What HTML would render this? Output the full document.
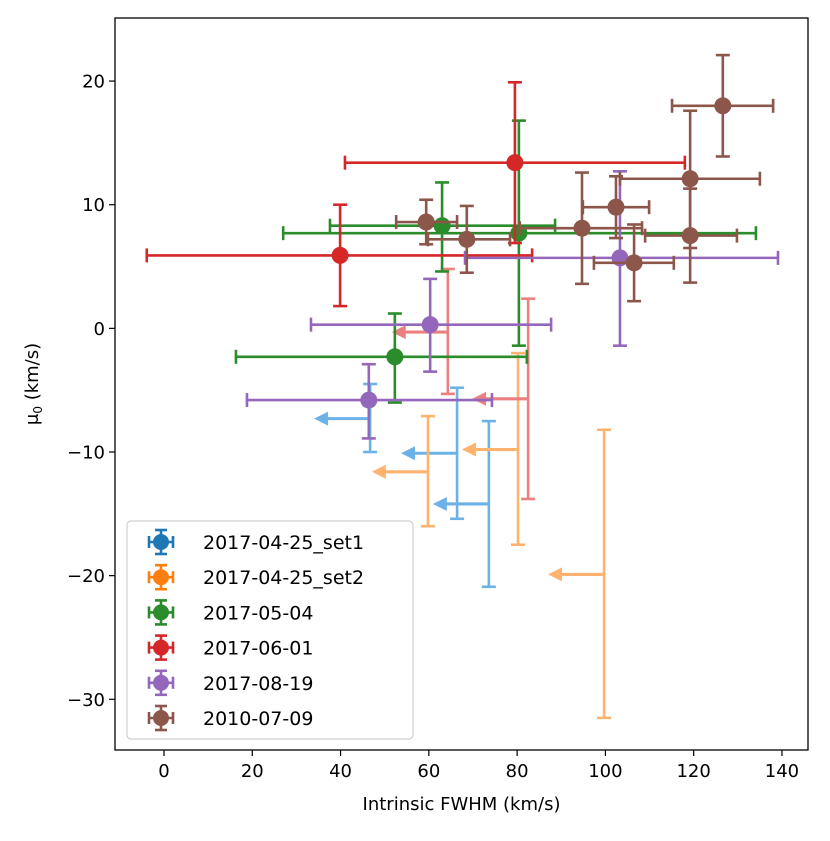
<!DOCTYPE html>
<html><head><meta charset="utf-8"><style>
body{margin:0;background:#fff;}
svg text{font-family:"DejaVu Sans","Liberation Sans",sans-serif;}
</style></head><body>
<svg id="chart" width="830" height="836" xmlns="http://www.w3.org/2000/svg">
<g id="marks"></g>
<g id="axes"></g>
</svg>
<script>
// data: [x, y, xlo, xhi, ylo, yhi]
const seriesNames = ["2017-04-25_set1","2017-04-25_set2","2017-05-04","2017-06-01","2017-08-19","2010-07-09"];
const seriesColors = ["#1f77b4","#ff7f0e","#2a8c2a","#d62728","#9467bd","#8c564b"];
const green = [[63.0,8.3,37.6,88.6,4.6,11.8],[80.4,7.7,27.0,134.1,-1.4,16.8],[52.3,-2.3,16.3,82.2,-6.0,1.2]];
const red = [[39.9,5.9,-3.9,83.4,1.8,10.0],[79.5,13.4,41.0,118.0,6.9,19.9]];
const purple = [[60.3,0.3,33.3,87.7,-3.5,4.0],[46.4,-5.8,18.8,74.3,-8.9,-2.9],[103.3,5.7,68.2,139.1,-1.4,12.7]];
const brown = [[59.4,8.6,52.6,66.4,6.8,10.4],[68.6,7.2,59.8,78.4,4.5,9.9],[94.7,8.1,80.6,108.3,3.6,12.6],[102.4,9.8,94.9,109.9,7.3,12.3],[106.5,5.3,97.4,115.5,2.2,8.4],[119.2,12.1,103.3,135.0,6.5,17.6],[119.2,7.5,109.0,129.8,3.7,11.3],[126.6,18.0,115.1,138.0,13.9,22.1]];
// upper limits: [x, y, ylo, yhi]
const limitsSet1 = [[46.7,-7.3,-10.0,-4.5],[66.4,-10.1,-15.4,-4.8],[73.6,-14.2,-20.9,-7.5]];
const limitsSet2 = [[59.8,-11.6,-16.0,-7.1],[80.2,-9.8,-17.5,-2.0],[99.7,-19.9,-31.5,-8.2]];
const limitsJun = [[64.3,-0.3,-5.3,4.8],[82.5,-5.7,-13.8,2.4]];
const xTicks = [0,20,40,60,80,100,120,140];
const yTicks = [-30,-20,-10,0,10,20];

const L=115,R=808,T=18,B=750;
const xMin=-11.1,xMax=145.9,yMin=-34.1,yMax=25.1;
const sx=v=>L+(v-xMin)/(xMax-xMin)*(R-L);
const sy=v=>B-(v-yMin)/(yMax-yMin)*(B-T);
const NS="http://www.w3.org/2000/svg";
const marks=document.getElementById('marks'), axes=document.getElementById('axes');
function mk(tag,attrs,parent){const e=document.createElementNS(NS,tag);for(const k in attrs)e.setAttribute(k,attrs[k]);parent.appendChild(e);return e;}
const CAP=7,LW=2.6;
function errbar(d,color,name){
  const g=mk('g',{},marks);
  
  
  const [x,y,xl,xh,yl,yh]=d;
  mk('line',{x1:sx(xl),x2:sx(xh),y1:sy(y),y2:sy(y),stroke:color,'stroke-width':LW},g);
  mk('line',{x1:sx(x),x2:sx(x),y1:sy(yl),y2:sy(yh),stroke:color,'stroke-width':LW},g);
  [xl,xh].forEach(v=>mk('line',{x1:sx(v),x2:sx(v),y1:sy(y)-CAP,y2:sy(y)+CAP,stroke:color,'stroke-width':LW},g));
  [yl,yh].forEach(v=>mk('line',{x1:sx(x)-CAP,x2:sx(x)+CAP,y1:sy(v),y2:sy(v),stroke:color,'stroke-width':LW},g));
  mk('circle',{cx:sx(x),cy:sy(y),r:8.5,fill:color},g);
}
function limit(d,color,name){
  const g=mk('g',{},marks);
  
  
  const [x,y,yl,yh]=d;
  mk('line',{x1:sx(x),x2:sx(x),y1:sy(yl),y2:sy(yh),stroke:color,'stroke-width':LW},g);
  [yl,yh].forEach(v=>mk('line',{x1:sx(x)-CAP,x2:sx(x)+CAP,y1:sy(v),y2:sy(v),stroke:color,'stroke-width':LW},g));
  const tip=sx(x-12.7), px=sx(x), py=sy(y);
  mk('line',{x1:px,x2:tip+12,y1:py,y2:py,stroke:color,'stroke-width':LW+0.5},g);
  mk('polygon',{points:`${tip},${py} ${tip+14},${py-7} ${tip+14},${py+7}`,fill:color},g);
}
limitsSet1.forEach(d=>limit(d,'#6cb2e6','limit-2017-04-25-set1'));
limitsSet2.forEach(d=>limit(d,'#ffb36f','limit-2017-04-25-set2'));
limitsJun.forEach(d=>limit(d,'#ec8080','limit-2017-06-01'));
green.forEach(d=>errbar(d,seriesColors[2],'point-2017-05-04'));
red.forEach(d=>errbar(d,seriesColors[3],'point-2017-06-01'));
purple.forEach(d=>errbar(d,seriesColors[4],'point-2017-08-19'));
brown.forEach(d=>errbar(d,seriesColors[5],'point-2010-07-09'));

// axes
const frame=mk('rect',{x:L,y:T,width:R-L,height:B-T,fill:'none',stroke:'#000','stroke-width':1.3},axes);


xTicks.forEach(v=>{
  mk('line',{x1:sx(v),x2:sx(v),y1:B,y2:B+6,stroke:'#000','stroke-width':1.2},axes);
  const t=mk('text',{x:sx(v),y:B+27,'font-size':18,'text-anchor':'middle'},axes);
  t.textContent=v;
  
  
});
yTicks.forEach(v=>{
  mk('line',{x1:L-6,x2:L,y1:sy(v),y2:sy(v),stroke:'#000','stroke-width':1.2},axes);
  const t=mk('text',{x:L-10,y:sy(v)+6.5,'font-size':18,'text-anchor':'end'},axes);
  t.textContent=v<0?'\u2212'+(-v):String(v);
  
  
});
const xt=mk('text',{x:(L+R)/2,y:810,'font-size':18,'text-anchor':'middle'},axes);
xt.textContent='Intrinsic FWHM (km/s)';


const yt=mk('text',{x:0,y:0,'font-size':18,'text-anchor':'middle',transform:`translate(38,${(T+B)/2}) rotate(-90)`},axes);
yt.innerHTML='μ<tspan font-size="12" dy="4">0</tspan><tspan dy="-4"> (km/s)</tspan>';



// legend
const lg=mk('g',{},axes);


mk('rect',{x:127,y:521,width:286,height:218,rx:4,fill:'#fff','fill-opacity':0.8,stroke:'#d0d0d0','stroke-width':1.2},lg);
seriesNames.forEach((n,i)=>{
  const cy=542+i*35.2, cx=161, c=seriesColors[i];
  const e=mk('g',{},lg);
  
  
  mk('line',{x1:cx-12,x2:cx+12,y1:cy,y2:cy,stroke:c,'stroke-width':LW},e);
  mk('line',{x1:cx,x2:cx,y1:cy-12,y2:cy+12,stroke:c,'stroke-width':LW},e);
  mk('line',{x1:cx-12,x2:cx-12,y1:cy-6,y2:cy+6,stroke:c,'stroke-width':LW},e);
  mk('line',{x1:cx+12,x2:cx+12,y1:cy-6,y2:cy+6,stroke:c,'stroke-width':LW},e);
  mk('line',{x1:cx-6,x2:cx+6,y1:cy-12,y2:cy-12,stroke:c,'stroke-width':LW},e);
  mk('line',{x1:cx-6,x2:cx+6,y1:cy+12,y2:cy+12,stroke:c,'stroke-width':LW},e);
  mk('circle',{cx:cx,cy:cy,r:8,fill:c},e);
  const t=mk('text',{x:203,y:cy+7,'font-size':19},e);
  t.textContent=n;
});
</script>
</body></html>
